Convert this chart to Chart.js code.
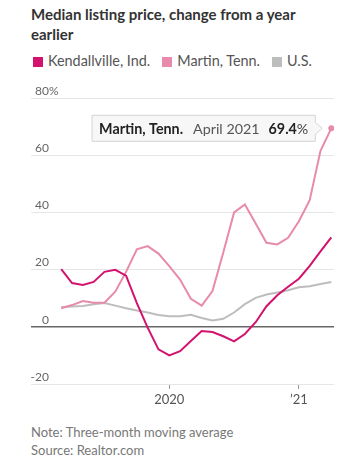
<!DOCTYPE html>
<html>
<head>
<meta charset="utf-8">
<script src="https://cdn.jsdelivr.net/npm/chart.js@4.4.0/dist/chart.umd.min.js"></script>
<style>
  body { margin: 0; background: #fff; font-family: Lato, "Noto Sans", sans-serif; }
  #wrap { position: relative; width: 348px; height: 473px; overflow: hidden; }
  #title { position: absolute; left: 31px; top: 4px; width: 310px; font-weight: bold; font-size: 15px; line-height: 20px; color: #333; }
  #legend { position: absolute; left: 33px; top: 52px; font-size: 14.4px; color: #555; white-space: nowrap; }
  #legend span.sw { display: inline-block; width: 10px; height: 10px; margin-right: 5px; vertical-align: -1px; }
  #legend span.it { margin-right: 12px; }
  #box { position: absolute; left: 0; top: 80px; width: 348px; height: 330px; }
  #note { position: absolute; left: 31px; top: 423px; font-size: 13px; line-height: 18px; color: #777; }
</style>
</head>
<body>
<div id="wrap">
  <div id="title">Median listing price, change from a year earlier</div>
  <div id="legend"></div>
  <div id="box"><canvas id="c"></canvas></div>
  <div id="note">Note: Three-month moving average<br>Source: Realtor.com</div>
</div>
<script>
// data: monthly, Mar 2019 .. Apr 2021
const months = ["Mar 2019","Apr 2019","May 2019","Jun 2019","Jul 2019","Aug 2019","Sep 2019","Oct 2019","Nov 2019","Dec 2019",
  "Jan 2020","Feb 2020","Mar 2020","Apr 2020","May 2020","Jun 2020","Jul 2020","Aug 2020","Sep 2020","Oct 2020","Nov 2020","Dec 2020",
  "Jan 2021","Feb 2021","Mar 2021","April 2021"];
const kendallville = [20.2, 15.3, 14.6, 15.7, 19.2, 19.9, 17.9, 8.3, -0.3, -7.9, -10.0, -8.5, -5.0, -1.5, -1.8, -3.3, -5.1, -2.5, 1.6, 7.2, 11.0, 14.0, 16.8, 21.3, 26.4, 31.3];
const martin = [6.5, 7.6, 9.0, 8.4, 8.4, 12.3, 19.2, 27.1, 28.2, 25.6, 21.2, 16.5, 9.8, 7.4, 12.5, 26.0, 40.0, 42.8, 36.1, 29.4, 28.8, 31.1, 36.9, 44.3, 61.5, 69.4];
const us = [6.9, 7.1, 7.3, 7.9, 8.3, 7.4, 6.5, 5.7, 5.0, 4.1, 3.7, 3.7, 4.2, 3.1, 2.2, 2.8, 5.0, 7.9, 10.1, 11.3, 12.0, 12.8, 13.8, 14.2, 15.0, 15.7];
const seriesNames = ["Kendallville, Ind.", "Martin, Tenn.", "U.S."];
const colors = ["#d3126e", "#e88aac", "#bdbdbd"];
const yTicks = [-20, 0, 20, 40, 60, 80];
const xTickMonths = [0, 12];           // months after Jan 2020
const xTickLabels = ["2020", "\u201921"];
const firstMonth = -10;                // Mar 2019 relative to Jan 2020

const FONT = 'Lato, "Noto Sans", sans-serif';

// html legend
const lg = document.getElementById("legend");
seriesNames.forEach((n, i) => {
  lg.innerHTML += '<span class="it"><span class="sw" style="background:' + colors[i] + '"></span>' + n + '</span>';
});

const pts = arr => arr.map((v, i) => ({ x: firstMonth + i, y: v }));

// y labels above grid lines, tooltip box on last Martin point
const extras = {
  id: "extras",
  afterDraw(chart) {
    const ctx = chart.ctx;
    const y = chart.scales.y;
    ctx.save();
    ctx.font = "12px " + FONT;
    ctx.fillStyle = "#666";
    ctx.textBaseline = "bottom";
    yTicks.forEach(t => {
      const py = y.getPixelForValue(t) - 1;
      ctx.textAlign = "right";
      ctx.fillText(String(t), 49, py);
      if (t === 80) { ctx.textAlign = "left"; ctx.fillText("%", 49, py); }
    });
    ctx.restore();

    // tooltip
    const meta = chart.getDatasetMeta(1);
    const last = martin.length - 1;
    const p = meta.data[last];
    const parts = [
      { t: seriesNames[1], f: "bold 14.3px " + FONT, c: "#222", gap: 10 },
      { t: months[last], f: "14.3px " + FONT, c: "#555", gap: 9 },
      { t: martin[last].toFixed(1), f: "bold 14.3px " + FONT, c: "#222", gap: 0 },
      { t: "%", f: "14.3px " + FONT, c: "#444", gap: 0 }
    ];
    ctx.save();
    let w = 0;
    parts.forEach(o => { ctx.font = o.f; o.w = ctx.measureText(o.t).width; w += o.w + o.gap; });
    const padX = 7, h = 26;
    const right = p.x - 16;
    const left = right - w - padX * 2;
    const top = p.y - h / 2;
    ctx.beginPath();
    ctx.moveTo(left, top);
    ctx.lineTo(right, top);
    ctx.lineTo(right, top + h / 2 - 6);
    ctx.lineTo(right + 7, top + h / 2);
    ctx.lineTo(right, top + h / 2 + 6);
    ctx.lineTo(right, top + h);
    ctx.lineTo(left, top + h);
    ctx.closePath();
    ctx.fillStyle = "#f7f7f7";
    ctx.fill();
    ctx.strokeStyle = "#d4d4d4";
    ctx.lineWidth = 1;
    ctx.stroke();
    let x = left + padX;
    ctx.textBaseline = "middle";
    ctx.textAlign = "left";
    parts.forEach(o => {
      ctx.font = o.f; ctx.fillStyle = o.c;
      ctx.fillText(o.t, x, p.y + 1);
      x += o.w + o.gap;
    });
    ctx.restore();
  }
};

new Chart(document.getElementById("c"), {
  type: "line",
  data: {
    datasets: [kendallville, martin, us].map((d, i) => ({
      label: seriesNames[i],
      data: pts(d),
      borderColor: colors[i],
      backgroundColor: colors[i],
      borderWidth: 2,
      tension: 0,
      pointRadius: ctx => (i === 1 && ctx.dataIndex === martin.length - 1) ? 3 : 0,
      pointBorderWidth: 0
    }))
  },
  options: {
    responsive: true,
    maintainAspectRatio: false,
    animation: false,
    events: [],
    layout: { padding: { left: 31, right: 14, top: 18, bottom: 0 } },
    plugins: { legend: { display: false }, tooltip: { enabled: false } },
    scales: {
      x: {
        type: "linear",
        min: -12.8,
        max: 15.25,
        afterBuildTicks: s => { s.ticks = xTickMonths.map(v => ({ value: v })); },
        afterFit: s => { s.height = 26; },
        ticks: {
          callback: v => xTickLabels[xTickMonths.indexOf(v)],
          color: "#555",
          font: { family: FONT, size: 13 },
          padding: 3,
          maxRotation: 0
        },
        grid: { drawOnChartArea: false, drawTicks: true, tickLength: 5, color: "#999" },
        border: { display: false }
      },
      y: {
        min: -20,
        max: 80,
        afterBuildTicks: s => { s.ticks = yTicks.map(v => ({ value: v })); },
        afterFit: s => { s.width = 0; },
        ticks: { display: false },
        grid: {
          drawTicks: false,
          color: c => c.tick && c.tick.value === 0 ? "#666" : "#e6e6e6",
          lineWidth: c => c.tick && c.tick.value === 0 ? 1.5 : 1
        },
        border: { display: false }
      }
    }
  },
  plugins: [extras]
});
</script>
</body>
</html>
